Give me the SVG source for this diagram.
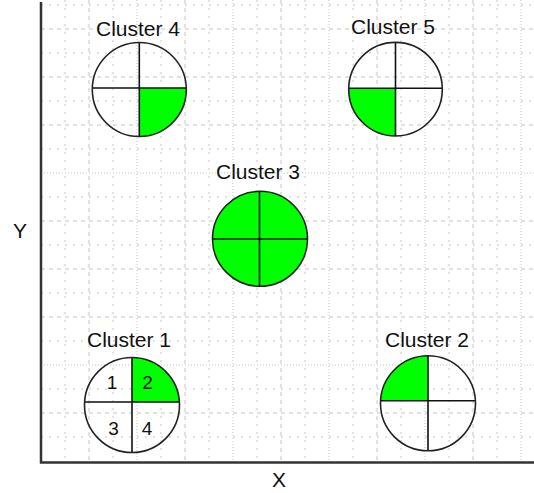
<svg xmlns="http://www.w3.org/2000/svg" width="534" height="493" viewBox="0 0 534 493">
<style>
.g{stroke:#c4c4c4;stroke-width:1;fill:none}
.sp{stroke-dasharray:2,6}
.da{stroke-dasharray:4,4}
.fi{stroke-dasharray:1,2}
.ax{stroke:#333;stroke-width:2.5;fill:none}
.ring{fill:none;stroke:#222;stroke-width:1.6}
.cross{stroke:#111;stroke-width:1.6;fill:none}
.q{fill:#00ff00;stroke:none}
.lbl{font-family:"Liberation Sans",Arial,sans-serif;font-size:21px;fill:#111;text-anchor:middle}
.num{font-family:"Liberation Sans",Arial,sans-serif;font-size:19px;fill:#111;text-anchor:middle}
</style>
<rect width="534" height="493" fill="#fff"/>
<g id="grid">
<g class="g sp">
<path d="M65,0V461M113,0V461M161,0V461M209,0V461M257,0V461M305,0V461M353,0V461M401,0V461M449,0V461M497,0V461"/>
<path d="M41,5H534M41,53H534M41,101H534M41,149H534M41,197H534M41,245H534M41,293H534M41,341H534M41,389H534M41,437H534"/>
</g>
<g class="g da">
<path d="M89,0V461M185,0V461M281,0V461M377,0V461M473,0V461"/>
<path d="M41,29H534M41,77H534M41,125H534M41,221H534M41,269H534M41,317H534M41,413H534"/>
</g>
<g class="g fi">
<path d="M137,0V461M233,0V461M329,0V461M425,0V461M521,0V461"/>
<path d="M41,173H534M41,365H534"/>
</g>
</g>
<g id="axes">
<path class="ax" d="M41,2V463.5M40,462.5H534"/>
<text class="lbl" x="20" y="238">Y</text>
<text class="lbl" x="279" y="486.5">X</text>
</g>
<g id="cluster4">
<text class="lbl" x="138" y="36">Cluster 4</text>
<path class="q" d="M139.3,88H186.3A47,47 0 0 1 139.3,136.5Z"/>
<path class="cross" d="M139.3,42.5V136.5M92.3,88H186.3"/>
<circle class="ring" cx="139.3" cy="89.5" r="47"/>
</g>
<g id="cluster5">
<text class="lbl" x="393" y="34">Cluster 5</text>
<path class="q" d="M395.5,88.3V136A46.8,46.8 0 0 1 348.7,88.3Z"/>
<path class="cross" d="M395.5,42.4V136M348.7,88.3H442.3"/>
<circle class="ring" cx="395.5" cy="89.2" r="46.8"/>
</g>
<g id="cluster3">
<text class="lbl" x="258" y="179">Cluster 3</text>
<circle class="q" cx="260" cy="238.8" r="47.5"/>
<path class="cross" d="M259.5,191.3V286.3M212.5,239H307.5"/>
<circle class="ring" cx="260" cy="238.8" r="47.5"/>
</g>
<g id="cluster1">
<text class="lbl" x="129" y="347">Cluster 1</text>
<path class="q" d="M132,402V357.5A47.5,47.5 0 0 1 179.4,402Z"/>
<path class="cross" d="M132,357.5V452.5M84.6,402H179.4"/>
<circle class="ring" cx="132" cy="405" r="47.5"/>
<text class="num" x="112" y="389">1</text>
<text class="num" x="147.5" y="389">2</text>
<text class="num" x="113.5" y="435">3</text>
<text class="num" x="147" y="435">4</text>
</g>
<g id="cluster2">
<text class="lbl" x="427" y="346.5">Cluster 2</text>
<path class="q" d="M428,400.7H380.6A47.5,47.5 0 0 1 428,355.8Z"/>
<path class="cross" d="M428,355.8V450.8M380.6,400.7H475.4"/>
<circle class="ring" cx="428" cy="403.3" r="47.5"/>
</g>
<g id="connectors"/>
</svg>
